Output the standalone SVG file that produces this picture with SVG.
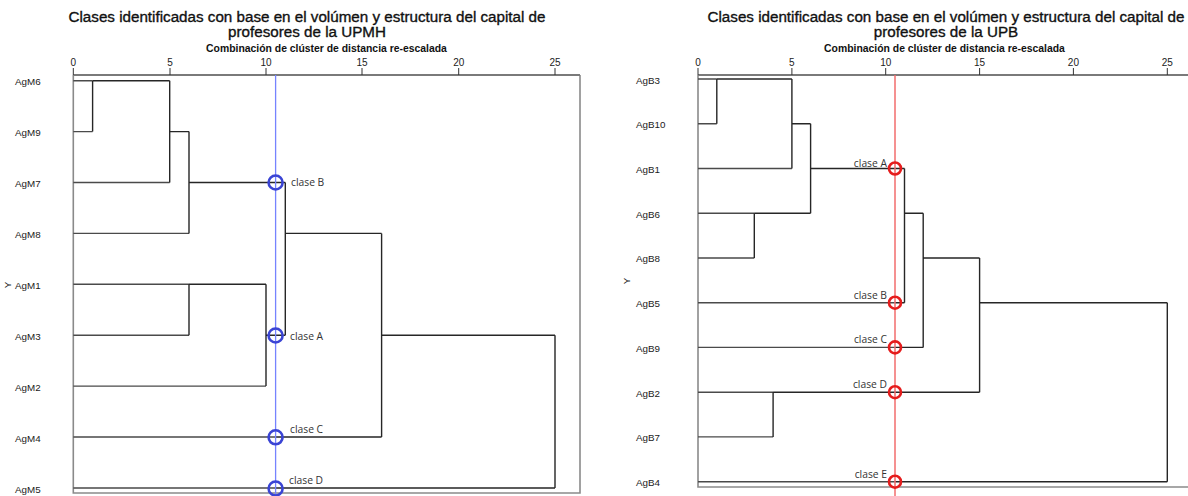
<svg xmlns="http://www.w3.org/2000/svg" width="1188" height="496" viewBox="0 0 1188 496">
<style>
.title{font-family:"Liberation Sans",Arial,sans-serif;font-size:15.2px;fill:#111;stroke:#111;stroke-width:0.35;text-anchor:middle}
.sub{font-family:"Liberation Sans",Arial,sans-serif;font-size:10.4px;font-weight:bold;fill:#111;text-anchor:middle}
.tick{font-family:"Liberation Sans",Arial,sans-serif;font-size:10px;fill:#222;text-anchor:middle}
.leaf{font-family:"Liberation Sans",Arial,sans-serif;font-size:9.8px;fill:#1a1a1a;dominant-baseline:central}
.cls{font-family:"Open Sans","DejaVu Sans",sans-serif;font-size:10.3px;fill:#333;dominant-baseline:central}
.frame{fill:none;stroke:#8a8a8a;stroke-width:1.6}
.axis{fill:none;stroke:#7a7a7a;stroke-width:2}
.tk{stroke:#333;stroke-width:1}
.dend{fill:none;stroke:#262626;stroke-width:1.4}
.leafline{fill:none;stroke:#4a4a4a;stroke-width:1.4}
.cutB{stroke:#7683ff;stroke-width:1.3}
.cutR{stroke:#f26d6d;stroke-width:1.5}
.ringB{fill:none;stroke:#3a44d4;stroke-width:2.6}
.ringR{fill:none;stroke:#e51c1c;stroke-width:2.6}
</style>

<!-- LEFT PANEL -->
<g id="left-titles">
<text class="title" x="307" y="21.5">Clases identificadas con base en el volúmen y estructura del capital de</text>
<text class="title" x="307" y="36.5">profesores de la UPMH</text>
<text class="sub" x="326.5" y="52">Combinación de clúster de distancia re-escalada</text>
</g>
<g id="left-axis">
<path class="frame" d="M73.3 75 V493 H580 V75"/>
<path class="axis" d="M73.3 75 H580"/>
<path class="tk" d="M73.3 68 V75 M170 68 V75 M266 68 V75 M362 68 V75 M458.7 68 V75 M555 68 V75"/>
<text class="tick" x="73.3" y="66">0</text>
<text class="tick" x="170" y="66">5</text>
<text class="tick" x="266" y="66">10</text>
<text class="tick" x="362" y="66">15</text>
<text class="tick" x="458.7" y="66">20</text>
<text class="tick" x="555" y="66">25</text>
<text class="leaf" transform="translate(7 285) rotate(-90)" text-anchor="middle" font-size="8">Y</text>
</g>

<g id="left-connectors">
<path class="leafline" d="M73.3 80.7 H92.6 M73.3 131.6 H92.6 M73.3 182.5 H169.7 M73.3 233.4 H189 M73.3 284.3 H189 M73.3 335.2 H189 M73.3 386.1 H266 M73.3 437 H275 M73.3 488 H275"/>
<path class="dend" d="M92.6 80.7 H169.7 M92.6 80.7 V131.6 M169.7 80.7 V182.5 M169.7 131.6 H189 M189 131.6 V233.4 M189 182.5 H285.3 M285.3 182.5 V335.2 M189 284.3 V335.2 M189 284.3 H266 M266 284.3 V386.1 M266 335.2 H285.3 M285.3 233.4 H381.6 M381.6 233.4 V437 M275 437 H381.6 M381.6 335.2 H555 M555 335.2 V488 M275 488 H555"/>
</g>

<g id="left-leaves">
<g id="AgM6"><text class="leaf" x="15" y="81">AgM6</text></g>
<g id="AgM9"><text class="leaf" x="15" y="132">AgM9</text></g>
<g id="AgM7"><text class="leaf" x="15" y="183">AgM7</text></g>
<g id="AgM8"><text class="leaf" x="15" y="234">AgM8</text></g>
<g id="AgM1"><text class="leaf" x="15" y="285">AgM1</text></g>
<g id="AgM3"><text class="leaf" x="15" y="336">AgM3</text></g>
<g id="AgM2"><text class="leaf" x="15" y="387">AgM2</text></g>
<g id="AgM4"><text class="leaf" x="15" y="438">AgM4</text></g>
<g id="AgM5"><text class="leaf" x="15" y="489">AgM5</text></g>
</g>

<g id="left-cut">
<line class="cutB" x1="275.6" y1="75" x2="275.6" y2="496"/>
<g id="UPMH-claseB"><circle class="ringB" cx="275.6" cy="182.5" r="7"/><text class="cls" x="291" y="182">clase B</text></g>
<g id="UPMH-claseA"><circle class="ringB" cx="275.6" cy="335.5" r="7"/><text class="cls" x="290" y="336">clase A</text></g>
<g id="UPMH-claseC"><circle class="ringB" cx="275.6" cy="437.3" r="7"/><text class="cls" x="290" y="429">clase C</text></g>
<g id="UPMH-claseD"><circle class="ringB" cx="275.6" cy="488.5" r="7"/><text class="cls" x="289" y="479.5">clase D</text></g>
</g>

<!-- RIGHT PANEL -->
<g id="right-titles">
<text class="title" x="946" y="21.5">Clases identificadas con base en el volúmen y estructura del capital de</text>
<text class="title" x="946" y="36.5">profesores de la UPB</text>
<text class="sub" x="944.5" y="52">Combinación de clúster de distancia re-escalada</text>
</g>
<g id="right-axis">
<path class="frame" d="M698 75 V487 H1188"/>
<path class="axis" d="M698 75 H1188"/>
<path class="tk" d="M698 68 V75 M791.9 68 V75 M885.7 68 V75 M979.6 68 V75 M1073.4 68 V75 M1167.3 68 V75"/>
<text class="tick" x="698" y="66">0</text>
<text class="tick" x="791.9" y="66">5</text>
<text class="tick" x="885.7" y="66">10</text>
<text class="tick" x="979.6" y="66">15</text>
<text class="tick" x="1073.4" y="66">20</text>
<text class="tick" x="1167.3" y="66">25</text>
<text class="leaf" transform="translate(626 281) rotate(-90)" text-anchor="middle" font-size="8">Y</text>
</g>

<g id="right-connectors">
<path class="leafline" d="M698 79 H716.8 M698 123.7 H716.8 M698 168.5 H791.9 M698 213.2 H754.3 M698 258 H754.3 M698 302.7 H895 M698 347.4 H895 M698 392.2 H773.1 M698 436.9 H773.1 M698 481.7 H895"/>
<path class="dend" d="M716.8 79 H791.9 M716.8 79 V123.7 M791.9 79 V168.5 M791.9 123.7 H810.6 M810.6 123.7 V213.2 M754.3 213.2 H810.6 M754.3 213.2 V258 M810.6 168.5 H904.5 M904.5 168.5 V302.7 M895 302.7 H904.5 M904.5 213.2 H923.2 M923.2 213.2 V347.4 M895 347.4 H923.2 M923.2 258 H979.6 M979.6 258 V392.2 M773.1 392.2 H979.6 M773.1 392.2 V436.9 M979.6 302.7 H1167.3 M1167.3 302.7 V481.7 M895 481.7 H1167.3"/>
</g>

<g id="right-leaves">
<g id="AgB3"><text class="leaf" x="636" y="80">AgB3</text></g>
<g id="AgB10"><text class="leaf" x="636" y="124.5">AgB10</text></g>
<g id="AgB1"><text class="leaf" x="636" y="169">AgB1</text></g>
<g id="AgB6"><text class="leaf" x="636" y="214">AgB6</text></g>
<g id="AgB8"><text class="leaf" x="636" y="258.5">AgB8</text></g>
<g id="AgB5"><text class="leaf" x="636" y="303.5">AgB5</text></g>
<g id="AgB9"><text class="leaf" x="636" y="348">AgB9</text></g>
<g id="AgB2"><text class="leaf" x="636" y="393">AgB2</text></g>
<g id="AgB7"><text class="leaf" x="636" y="437.5">AgB7</text></g>
<g id="AgB4"><text class="leaf" x="636" y="482.5">AgB4</text></g>
</g>

<g id="right-cut">
<line class="cutR" x1="895" y1="75" x2="895" y2="496"/>
<g id="UPB-claseA"><circle class="ringR" cx="895" cy="168.5" r="6"/><text class="cls" x="887" y="162.7" text-anchor="end">clase A</text></g>
<g id="UPB-claseB"><circle class="ringR" cx="895" cy="302.7" r="6"/><text class="cls" x="887" y="294.5" text-anchor="end">clase B</text></g>
<g id="UPB-claseC"><circle class="ringR" cx="895" cy="347.4" r="6"/><text class="cls" x="887" y="338.5" text-anchor="end">clase C</text></g>
<g id="UPB-claseD"><circle class="ringR" cx="895" cy="392.2" r="6"/><text class="cls" x="887" y="384.3" text-anchor="end">clase D</text></g>
<g id="UPB-claseE"><circle class="ringR" cx="895" cy="481.7" r="6"/><text class="cls" x="887" y="473.5" text-anchor="end">clase E</text></g>
</g>
</svg>
